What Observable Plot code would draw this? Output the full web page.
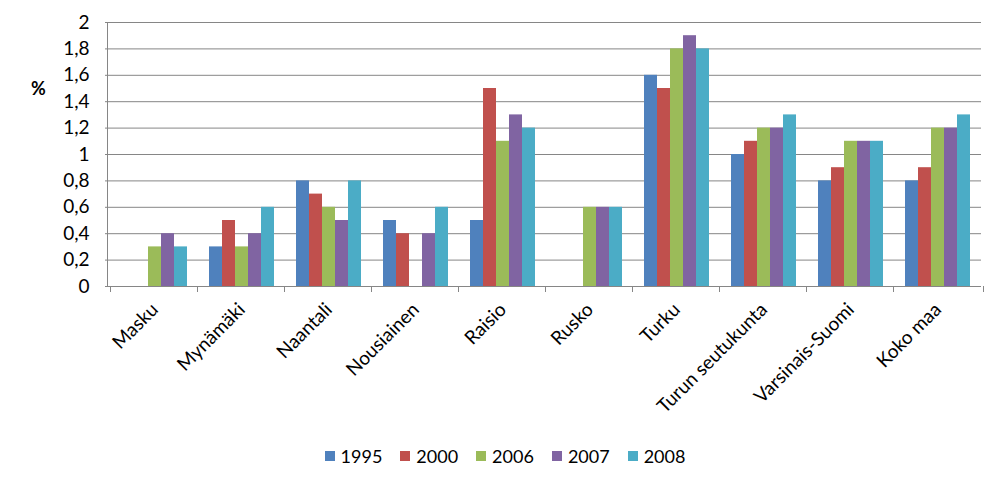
<!DOCTYPE html>
<html>
<head>
<meta charset="utf-8">
<script src="https://cdn.jsdelivr.net/npm/d3@7"></script>
<script src="https://cdn.jsdelivr.net/npm/@observablehq/plot@0.6"></script>
<style>
  html, body { margin: 0; padding: 0; background: #fff; }
  #wrap { position: relative; width: 1004px; height: 487px; font-family: Lato, "Open Sans", sans-serif; }
  #unit { position: absolute; left: 31px; top: 77px; font-size: 18px; font-weight: bold; color: #000; }
  #legend { display: flex; justify-content: center; align-items: center; height: 32px; padding-left: 6px; }
  .item { display: flex; align-items: center; margin: 0 9px; font-size: 18px; color: #000; }
  .sw { width: 10px; height: 10px; margin-right: 6px; }
</style>
</head>
<body>
<div id="wrap">
  <div id="chart"></div>
  <div id="legend"></div>
  <div id="unit">%</div>
</div>
<script>
const categories = ["Masku", "Mynämäki", "Naantali", "Nousiainen", "Raisio", "Rusko", "Turku", "Turun seutukunta", "Varsinais-Suomi", "Koko maa"];
const years = ["1995", "2000", "2006", "2007", "2008"];
const v1995 = [null, 0.3, 0.8, 0.5, 0.5, null, 1.6, 1.0, 0.8, 0.8];
const v2000 = [null, 0.5, 0.7, 0.4, 1.5, null, 1.5, 1.1, 0.9, 0.9];
const v2006 = [0.3, 0.3, 0.6, null, 1.1, 0.6, 1.8, 1.2, 1.1, 1.2];
const v2007 = [0.4, 0.4, 0.5, 0.4, 1.3, 0.6, 1.9, 1.2, 1.1, 1.2];
const v2008 = [0.3, 0.6, 0.8, 0.6, 1.2, 0.6, 1.8, 1.3, 1.1, 1.3];
const colors = ["#4F81BD", "#C0504D", "#9BBB59", "#8064A2", "#4BACC6"];
const yTicks = [0, 0.2, 0.4, 0.6, 0.8, 1, 1.2, 1.4, 1.6, 1.8, 2];

const series = [v1995, v2000, v2006, v2007, v2008];
const data = [];
years.forEach((yr, j) => {
  categories.forEach((c, i) => {
    if (series[j][i] != null) data.push({cat: c, year: yr, value: series[j][i]});
  });
});

const fmt = d => String(d).replace(".", ",");
const gridColor = "#868686";

const chart = Plot.plot({
  width: 1004,
  height: 440,
  marginLeft: 108,
  marginRight: 20,
  marginTop: 22,
  marginBottom: 154,
  style: {fontFamily: "Lato, 'Open Sans', sans-serif", fontSize: "19px", color: "#000", background: "#fff"},
  fx: {domain: categories, padding: 0, label: null},
  x: {domain: years, paddingInner: 0, paddingOuter: 0.75, axis: null},
  y: {domain: [0, 2], label: null},
  color: {domain: years, range: colors},
  marks: [
    Plot.gridY(yTicks, {stroke: gridColor, strokeOpacity: 1}),
    Plot.axisY(yTicks, {tickSize: 6, tickPadding: 16, stroke: gridColor, fill: "#000", tickFormat: fmt, fontSize: 19, label: null}),
    Plot.axisFx({anchor: "bottom", tickRotate: -45, tickSize: 0, tickPadding: 20, fill: "#000", fontSize: 19, label: null}),
    Plot.barY(data, {fx: "cat", x: "year", y: "value", fill: "year"}),
    Plot.ruleY([0], {stroke: gridColor})
  ]
});

// category boundary ticks and the vertical y-axis line, placed with the plot's own scales
const fxs = chart.scale("fx");
const ys = chart.scale("y");
const svg = d3.select(chart);
const y0 = ys.apply(0);
const edges = categories.map(c => fxs.apply(c)).concat([fxs.range[1]]);
const g = svg.append("g").attr("stroke", gridColor);
edges.forEach(x => {
  g.append("line").attr("x1", Math.round(x) - 0.5).attr("x2", Math.round(x) - 0.5).attr("y1", y0).attr("y2", y0 + 6);
});
g.append("line").attr("x1", Math.round(fxs.range[0]) - 0.5).attr("x2", Math.round(fxs.range[0]) - 0.5)
  .attr("y1", ys.apply(2)).attr("y2", y0 + 0.5);

document.getElementById("chart").appendChild(chart);

const legend = d3.select("#legend");
years.forEach((yr, j) => {
  const it = legend.append("div").attr("class", "item");
  it.append("div").attr("class", "sw").style("background", colors[j]);
  it.append("span").text(yr);
});
</script>
</body>
</html>
